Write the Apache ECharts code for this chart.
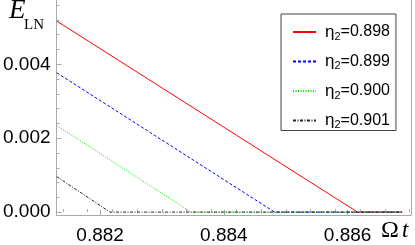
<!DOCTYPE html>
<html><head><meta charset="utf-8">
<script src="https://cdn.jsdelivr.net/npm/echarts@6/dist/echarts.min.js"></script>
<style>html,body{margin:0;padding:0;background:#fff}#c{width:415px;height:245px}</style>
</head><body><div id="c"></div>
<script>
// Data
const seriesLabels = ['0.898', '0.899', '0.900', '0.901'];
const s898 = [[0.8813, 0.00517], [0.88616, 0], [0.88688, 0]];
const s899 = [[0.8813, 0.00377], [0.88482, 0], [0.88688, 0]];
const s900 = [[0.8813, 0.00234], [0.88347, 0], [0.88688, 0]];
const s901 = [[0.8813, 0.00096], [0.88216, 0], [0.88688, 0]];
const xTickLabels = [0.882, 0.884, 0.886];
const yTickLabels = [0, 0.002, 0.004];

const xMin = 0.881296, xMax = 0.887024;
const yMin = -0.000078, yMax = 0.00574;

function minors(from, to, step) {
  const out = [];
  for (let v = from; v <= to + 1e-12; v += step) out.push(+v.toFixed(6));
  return out;
}
const xMinor = minors(0.8814, 0.887, 0.0004);
const yMinor = minors(0, 0.0056, 0.0004);

const frame = '#aaaaaa';
const sansFont = '"Liberation Sans", Arial, sans-serif';
const serifFont = '"Liberation Serif", "Times New Roman", serif';

const chart = echarts.init(document.getElementById('c'), null, {renderer: 'canvas'});
const names = seriesLabels.map(s => 'n' + s);
const colors = ['#ff0000', '#0000ff', '#00e000', '#222222'];
const types = ['solid', [3, 2], [1, 1.5], [3, 1.5, 1, 1.5]];
const datas = [s898, s899, s900, s901];

chart.setOption({
  animation: false,
  grid: {left: 53, right: 4, top: -2, bottom: 23, containLabel: false},
  xAxis: [{
    type: 'value', min: xMin, max: xMax,
    axisLine: {show: true, onZero: false, lineStyle: {color: frame, width: 1}},
    axisTick: {show: true, inside: true, length: 5, customValues: xTickLabels, lineStyle: {color: frame}},
    axisLabel: {customValues: xTickLabels, formatter: v => v.toFixed(3), color: '#000', fontSize: 19, fontFamily: sansFont, margin: 11},
    splitLine: {show: false}
  }, {
    type: 'value', min: xMin, max: xMax, position: 'bottom',
    axisLine: {show: false},
    axisTick: {show: true, inside: true, length: 3, customValues: xMinor, lineStyle: {color: frame}},
    axisLabel: {show: false},
    splitLine: {show: false}
  }],
  yAxis: [{
    type: 'value', min: yMin, max: yMax, position: 'left',
    axisLine: {show: true, onZero: false, lineStyle: {color: frame, width: 1}},
    axisTick: {show: true, inside: true, length: 5, customValues: yTickLabels, lineStyle: {color: frame}},
    axisLabel: {customValues: yTickLabels, formatter: v => v.toFixed(3), color: '#000', fontSize: 19, fontFamily: sansFont, margin: 6},
    splitLine: {show: false}
  }, {
    type: 'value', min: yMin, max: yMax, position: 'left',
    axisLine: {show: false},
    axisTick: {show: true, inside: true, length: 3, customValues: yMinor, lineStyle: {color: frame}},
    axisLabel: {show: false},
    splitLine: {show: false}
  }, {
    type: 'value', min: yMin, max: yMax, position: 'right',
    axisLine: {show: true, onZero: false, lineStyle: {color: frame, width: 1}},
    axisTick: {show: false}, axisLabel: {show: false}, splitLine: {show: false}
  }],
  legend: {
    orient: 'vertical', left: 281, top: 14,
    backgroundColor: '#fff', borderColor: '#444', borderWidth: 1,
    padding: [9.5, 6, 0, 11],
    itemWidth: 23, itemHeight: 14, itemGap: 11,
    itemStyle: {opacity: 0},
    data: names,
    formatter: n => '{a|η}{b|2}{c|=' + n.slice(1) + '}',
    textStyle: {
      color: '#000', fontFamily: sansFont, fontSize: 16,
      rich: {
        a: {fontSize: 17, lineHeight: 20, fontFamily: sansFont, color: '#000', padding: [0, 0, 0, 4]},
        b: {fontSize: 11, lineHeight: 11, fontFamily: sansFont, color: '#000', verticalAlign: 'bottom'},
        c: {fontSize: 16, lineHeight: 20, fontFamily: sansFont, color: '#000'}
      }
    }
  },
  graphic: [
    {type: 'text', left: 9, top: -3, style: {
      text: 'E', fontSize: 27, fontStyle: 'italic', fontFamily: serifFont, fill: '#000'
    }},
    {type: 'text', left: 24, top: 18, style: {
      text: 'LN', fontSize: 15, fontFamily: serifFont, fill: '#000'
    }},
    {type: 'text', left: 381, top: 219, style: {
      text: 'Ω', fontSize: 24, fontFamily: serifFont, fill: '#000'
    }},
    {type: 'text', left: 402, top: 219, style: {
      text: 't', fontSize: 23, fontStyle: 'italic', fontFamily: serifFont, fill: '#000'
    }}
  ],
  series: datas.map((d, i) => ({
    name: names[i], type: 'line', data: d, xAxisIndex: 0, yAxisIndex: 0,
    symbol: 'none', clip: true,
    lineStyle: {color: colors[i], width: 1, type: types[i]},
    itemStyle: {color: colors[i]}
  }))
});
</script></body></html>
